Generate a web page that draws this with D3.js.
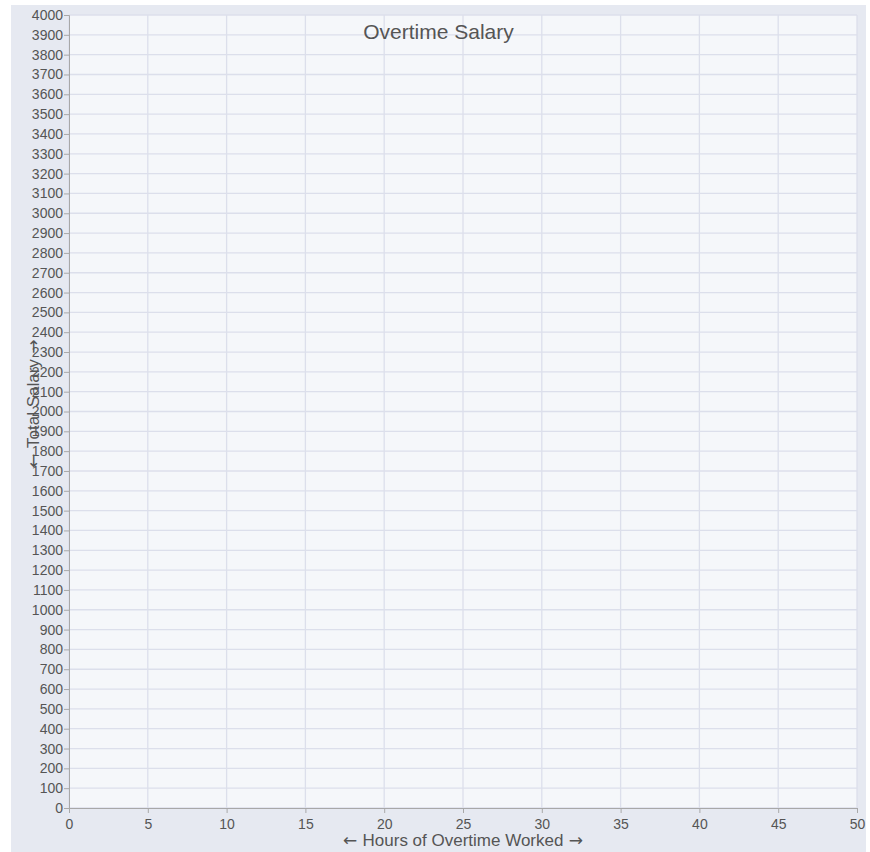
<!DOCTYPE html>
<html>
<head>
<meta charset="utf-8">
<script src="https://cdn.jsdelivr.net/npm/d3@7"></script>
<style>
body { margin: 0; background: #fff; font-family: Arial, "Liberation Sans", sans-serif; }
svg { position: absolute; left: 11px; top: 5px; }
.arrow { font-family: "DejaVu Sans", sans-serif; }
</style>
</head>
<body>
<svg width="855" height="847"></svg>
<script>
// axis ranges and tick values for the empty overtime chart
const xDomain = [0, 50];
const yDomain = [0, 4000];
const xTicks = [0, 5, 10, 15, 20, 25, 30, 35, 40, 45, 50];
const yTicks = d3.range(0, 4001, 100);
const titleText = 'Overtime Salary';
const xLabel = 'Hours of Overtime Worked';
const yLabel = 'Total Salary';

function addLabel(sel, txt) { // arrows are drawn in DejaVu so they come out wide like the original
  sel.append('tspan').attr('class', 'arrow').text('\u2190 ');
  sel.append('tspan').text(txt);
  sel.append('tspan').attr('class', 'arrow').text(' \u2192');
}

function makeChart() {
  let svg = d3.select('svg');
  let w = +svg.attr('width');
  let h = +svg.attr('height');
  let margin = {top: 10, left: 58, right: 9, bottom: 44};

  svg.append('rect').attr('width', w).attr('height', h).attr('fill', '#e6e9f1');
  svg.append('rect')
    .attr('x', margin.left).attr('y', margin.top)
    .attr('width', w - margin.left - margin.right)
    .attr('height', h - margin.top - margin.bottom)
    .attr('fill', '#f5f7fa');

  let xScale = d3.scaleLinear().domain(xDomain).range([margin.left, w - margin.right]);
  let yScale = d3.scaleLinear().domain(yDomain).range([h - margin.bottom, margin.top]);

  // grid lines
  svg.append('g').selectAll('line').data(xTicks).enter().append('line')
    .attr('x1', d => xScale(d)).attr('x2', d => xScale(d))
    .attr('y1', margin.top).attr('y2', h - margin.bottom)
    .attr('stroke', '#dcdfeb').attr('stroke-width', 1.3);
  svg.append('g').selectAll('line').data(yTicks).enter().append('line')
    .attr('x1', margin.left).attr('x2', w - margin.right)
    .attr('y1', d => yScale(d)).attr('y2', d => yScale(d))
    .attr('stroke', '#dcdfeb').attr('stroke-width', 1.3);

  const xAxis = d3.axisBottom(xScale).tickValues(xTicks).tickSize(5).tickFormat(d3.format('d'));
  const yAxis = d3.axisLeft(yScale).tickValues(yTicks).tickSize(5).tickFormat(d3.format('d'));

  let gx = svg.append('g')
    .attr('transform', 'translate(0,' + (h - margin.bottom) + ')')
    .call(xAxis);
  let gy = svg.append('g')
    .attr('transform', 'translate(' + margin.left + ',0)')
    .call(yAxis);
  [gx, gy].forEach(g => {
    g.selectAll('path, line').attr('stroke', '#a8a8a8');
    g.selectAll('text').attr('fill', '#555').style('font-size', '14px')
      .style('font-family', 'Arial, "Liberation Sans", sans-serif');
  });
  gx.selectAll('text').attr('dy', '0.9em');
  gy.selectAll('text').attr('x', -6);

  svg.append('text')
    .attr('x', w / 2).attr('y', 34)
    .attr('text-anchor', 'middle')
    .attr('fill', '#555').style('font-size', '21px')
    .text(titleText);

  let xl = svg.append('text')
    .attr('x', (margin.left + w - margin.right) / 2).attr('y', h - 6)
    .attr('text-anchor', 'middle')
    .attr('fill', '#555').style('font-size', '17px');
  addLabel(xl, xLabel);

  let yl = svg.append('text')
    .attr('transform', 'translate(28,' + (yScale(2040)) + ') rotate(-90)')
    .attr('text-anchor', 'middle')
    .attr('fill', '#555').style('font-size', '17px');
  addLabel(yl, yLabel);
}
makeChart();
</script>
</body>
</html>
